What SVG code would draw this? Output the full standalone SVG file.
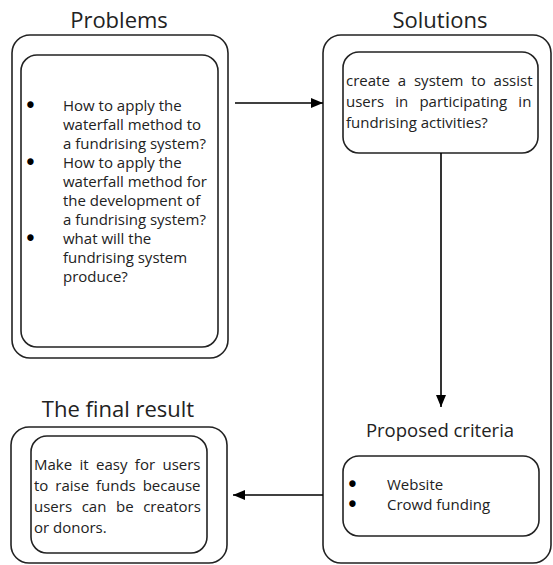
<svg xmlns="http://www.w3.org/2000/svg" width="553" height="565" viewBox="0 0 553 565">
<defs>
<marker id="ah" viewBox="0 0 12 10" refX="12" refY="5" markerWidth="12" markerHeight="10" markerUnits="userSpaceOnUse" orient="auto">
<path d="M0,0 L12,5 L0,10 Z" fill="#000"/>
</marker>
<style>
.box{fill:#fff;stroke:#222;stroke-width:1.6}
.t{font-family:"Open Sans","Noto Sans",sans-serif;fill:#222}
.title{font-size:22px;text-anchor:middle}
.body{font-size:15px}
.bul{font-size:15px;font-family:"DejaVu Sans",sans-serif;fill:#000;stroke:#000;stroke-width:2}
.conn{stroke:#000;stroke-width:1.6;fill:none;marker-end:url(#ah)}
</style>
</defs>
<rect width="553" height="565" fill="#fff"/>

<g id="problems">
<text class="t title" x="119" y="28">Problems</text>
<rect class="box" x="12" y="35" width="216" height="323" rx="18"/>
<rect class="box" x="21" y="55" width="197" height="292" rx="16"/>
<g class="t body">
<text class="bul" x="26" y="111">•</text>
<text x="63" y="111">How to apply the</text>
<text x="63" y="130">waterfall method to</text>
<text x="63" y="149">a fundrising system?</text>
<text class="bul" x="26" y="168">•</text>
<text x="63" y="168">How to apply the</text>
<text x="63" y="187">waterfall method for</text>
<text x="63" y="206">the development of</text>
<text x="63" y="225">a fundrising system?</text>
<text class="bul" x="26" y="244">•</text>
<text x="63" y="244">what will the</text>
<text x="63" y="263">fundrising system</text>
<text x="63" y="282">produce?</text>
</g>
</g>

<g id="solutions">
<text class="t title" x="440" y="28">Solutions</text>
<rect class="box" x="323" y="35" width="228" height="528" rx="18"/>
<rect class="box" x="343" y="52" width="195" height="101" rx="16"/>
<g class="t body">
<text x="346" y="86" style="word-spacing:4px">create a system to assist</text>
<text x="346" y="107" style="word-spacing:7.3px">users in participating in</text>
<text x="346" y="128">fundrising activities?</text>
</g>
</g>

<g id="criteria">
<text class="t" x="440" y="437" font-size="18.5" text-anchor="middle">Proposed criteria</text>
<rect class="box" x="343" y="456" width="196" height="80" rx="16"/>
<g class="t body">
<text class="bul" x="348" y="490">•</text>
<text x="387" y="490">Website</text>
<text class="bul" x="348" y="510">•</text>
<text x="387" y="510">Crowd funding</text>
</g>
</g>

<g id="final-result">
<text class="t title" x="118" y="417">The final result</text>
<rect class="box" x="11" y="427" width="216" height="136" rx="18"/>
<rect class="box" x="31" y="436" width="176" height="117" rx="16"/>
<g class="t body">
<text x="34" y="470" style="word-spacing:3.5px">Make it easy for users</text>
<text x="34" y="491" style="word-spacing:3px">to raise funds because</text>
<text x="34" y="512" style="word-spacing:5.7px">users can be creators</text>
<text x="34" y="533">or donors.</text>
</g>
</g>

<g id="connectors">
<line class="conn" x1="235" y1="103" x2="323" y2="103"/>
<line class="conn" x1="441" y1="153" x2="441" y2="407"/>
<line class="conn" x1="323" y1="495" x2="233" y2="495"/>
</g>
</svg>
